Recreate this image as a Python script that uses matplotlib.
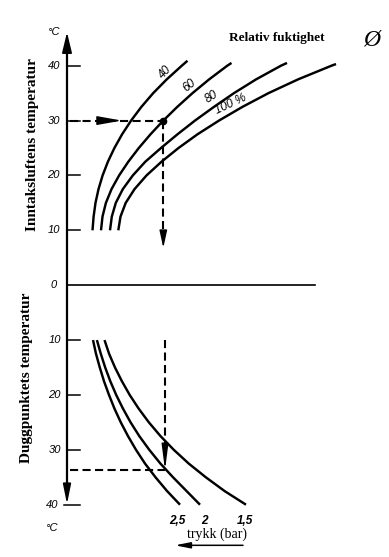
import numpy as np
import matplotlib
matplotlib.use("Agg")
import matplotlib.pyplot as plt

# upper part: intake air temperature (degC) vs. horizontal position (px from axis)
rh_temp = [10, 12.5, 15, 17.5, 20, 22.5, 25, 27.5, 30, 32.5, 35, 37.5, 40]
rh40_x = [25.5, 26.6, 28.5, 31.5, 35.6, 40.9, 47.4, 55.1, 64.1, 74.4, 86.2, 99.7, 114.8]
rh60_x = [34, 35.5, 38.9, 44.5, 52.1, 61.3, 71.8, 83.5, 96.3, 110.3, 125.5, 142.1, 160.3]
rh80_x = [43, 44.8, 48.8, 55.8, 65.8, 78.3, 94, 110.5, 128, 147, 167, 189, 214]
rh100_x = [51.3, 53.5, 58.7, 67.5, 79.5, 94.5, 111.5, 130.5, 152, 175.5, 201.5, 231, 264.5]
rh_end_t = [40.9, 40.5, 40.5, 40.3]
rh_end_x = [120.5, 164.5, 220, 269]
rh_labels = ["40", "60", "80", "100 %"]

# lower part: dew point (degC, downward) for three pressures (bar)
dp_temp = [10, 12.5, 15, 17.5, 20, 22.5, 25, 27.5, 30, 32.5, 35, 37.5, 40]
p25_x = [26, 29, 32.8, 37, 42, 47.5, 53.8, 61, 69, 78, 88.5, 100, 113]
p20_x = [29.9, 33.8, 38.2, 43.3, 49.2, 56, 63.6, 72.3, 82.3, 93.4, 106, 119.5, 133]
p15_x = [37.5, 42.1, 48, 54.9, 62.7, 71.7, 81.9, 93.5, 106.8, 121.7, 138.8, 157.5, 179]
p_labels = ["2,5", "2", "1,5"]

temp_ticks = [10, 20, 30, 40]

# worked example: 30 degC / 60 % -> dew point ~34 degC at 2 bar
ex_temp = 30
ex_x = 96.3
ex_low_x = 98
ex_dew = 33.7

fig = plt.figure(figsize=(3.89, 5.57), dpi=100)
ax = fig.add_axes([0, 0, 1, 1])
ax.set_xlim(-67, 322)
ax.set_ylim(-49.53, 51.97)
ax.axis("off")

lw = 1.75
tick_font = dict(family="Liberation Sans", style="italic", fontsize=8)

# curves
for xs, te, xe in zip([rh40_x, rh60_x, rh80_x, rh100_x], rh_end_t, rh_end_x):
    ax.plot(xs + [xe], rh_temp + [te], color="k", lw=lw,
            solid_capstyle="butt", solid_joinstyle="round")
for xs in [p25_x, p20_x, p15_x]:
    ax.plot(xs, [-t for t in dp_temp], color="k", lw=lw,
            solid_capstyle="butt", solid_joinstyle="round")

# axes
ax.plot([0, 0], [43.0, -36.8], color="k", lw=1.6)
ax.annotate("", xy=(0, 46.1), xytext=(0, 42.0),
            arrowprops=dict(arrowstyle="-|>,head_length=1.25,head_width=0.3",
                            color="k", lw=1.2, shrinkA=0, shrinkB=0))
ax.annotate("", xy=(0, -39.9), xytext=(0, -36.0),
            arrowprops=dict(arrowstyle="-|>,head_length=1.2,head_width=0.24",
                            color="k", lw=1.2, shrinkA=0, shrinkB=0))
ax.plot([0, 248], [0, 0], color="k", lw=1.2)
for t in temp_ticks:
    ax.plot([0, 13], [t, t], color="k", lw=1.1)
    ax.plot([-3 if t == 40 else 0, 13], [-t, -t], color="k", lw=1.1)
    ax.text(-7, t, str(t), ha="right", va="center", **tick_font)
    ax.text(-9 if t == 40 else -6, -t, str(t), ha="right", va="center", **tick_font)
ax.text(-10, 0, "0", ha="right", va="center", **tick_font)
ax.text(-13, 46.1, "°C", ha="center", va="center", **tick_font)
ax.text(-15, -44.2, "°C", ha="center", va="center", **tick_font)

# dashed example lines
dash = dict(color="k", lw=1.5, dashes=(3.9, 2.1))
ax.plot([3, ex_x], [ex_temp, ex_temp], **dash)
ax.plot([ex_x, ex_x], [ex_temp, 9.5], **dash)
ax.plot(ex_x, ex_temp, "o", color="k", ms=4.5)
ax.annotate("", xy=(54.7, ex_temp), xytext=(33, ex_temp),
            arrowprops=dict(arrowstyle="-|>,head_length=1.5,head_width=0.27",
                            color="k", lw=1, shrinkA=0, shrinkB=0))
ax.annotate("", xy=(ex_x, 6.8), xytext=(ex_x, 9.6),
            arrowprops=dict(arrowstyle="-|>,head_length=1.05,head_width=0.23",
                            color="k", lw=1, shrinkA=0, shrinkB=0))
ax.plot([ex_low_x, ex_low_x], [-10, -29.5], **dash)
ax.plot([3, ex_low_x], [-ex_dew, -ex_dew], **dash)
ax.annotate("", xy=(ex_low_x, -ex_dew), xytext=(ex_low_x, -29.5),
            arrowprops=dict(arrowstyle="-|>,head_length=1.55,head_width=0.2",
                            color="k", lw=1, shrinkA=0, shrinkB=0))

# curve labels
lab_font = dict(family="Liberation Sans", style="italic", fontsize=8.5,
                ha="center", va="center", rotation_mode="anchor")
for lab, x, y, r in zip(rh_labels, [98, 122, 145, 164], [38.8, 36.3, 34.3, 33.0], [47, 40, 33, 25]):
    ax.text(x, y, lab, rotation=r, **lab_font)
for lab, x in zip(p_labels, [110.5, 137, 178]):
    ax.text(x, -43.0, lab, family="Liberation Sans", style="italic", weight="bold",
            fontsize=8.5, ha="center", va="center")

# titles
serif_b = dict(family="Liberation Serif", weight="bold")
ax.text(210, 45.0, "Relativ fuktighet", fontsize=9.5, ha="center", va="center", **serif_b)
ax.text(305, 44.6, "\u00d8", family="Liberation Serif", style="italic", fontsize=17,
        ha="center", va="center")
ax.text(-34, 25.7, "Inntaksluftens temperatur", rotation=90, fontsize=11,
        ha="center", va="center", **serif_b)
ax.text(-40, -16.9, "Duggpunktets temperatur", rotation=90, fontsize=11,
        ha="center", va="center", **serif_b)
ax.text(150, -45.3, "trykk (bar)", family="Liberation Serif", fontsize=10,
        ha="center", va="center")
ax.annotate("", xy=(108, -47.4), xytext=(176, -47.4),
            arrowprops=dict(arrowstyle="-|>,head_length=0.9,head_width=0.18",
                            color="k", lw=1.1, shrinkA=0, shrinkB=0))

fig.savefig("out.png", dpi=100)
